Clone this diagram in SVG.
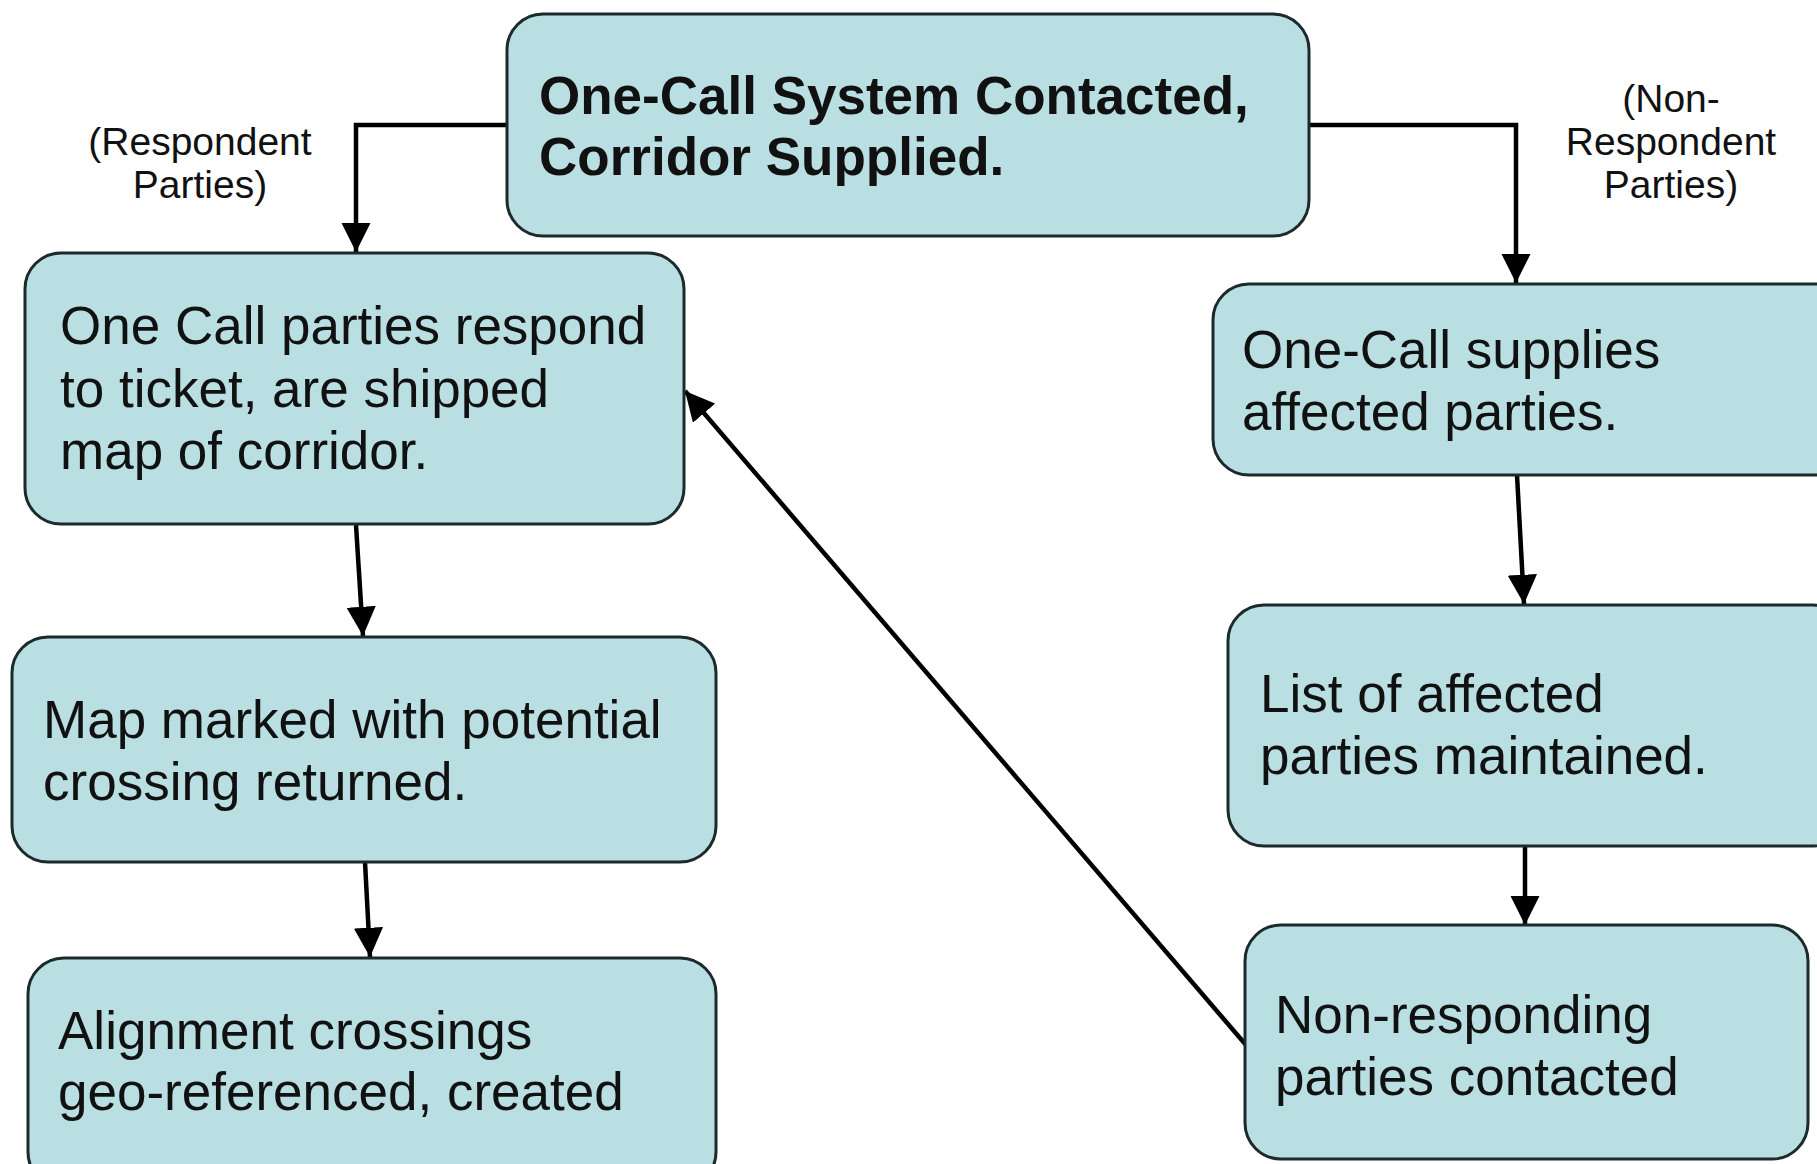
<svg xmlns="http://www.w3.org/2000/svg" width="1817" height="1164" viewBox="0 0 1817 1164">
<defs>
<style>
.box{fill:#b9dfe3;stroke:#1c2a2c;stroke-width:3}
.t{font-family:"Liberation Sans",Arial,sans-serif;font-size:53px;fill:#111}
.tb{font-family:"Liberation Sans",Arial,sans-serif;font-size:53px;font-weight:bold;fill:#111}
.lbl{font-family:"Liberation Sans",Arial,sans-serif;font-size:39px;fill:#111;text-anchor:middle}
.c{fill:none;stroke:#000;stroke-width:4.5}
</style>
<marker id="ah" viewBox="0 0 10 10" refX="10" refY="5" markerWidth="6.5" markerHeight="6.5" markerUnits="strokeWidth" orient="auto">
<path d="M0,0 L10,5 L0,10 Z" fill="#000"/>
</marker>
</defs>
<rect width="1817" height="1164" fill="#fff"/>
<g id="connectors">
<path class="c" d="M507,125 H356 V252" marker-end="url(#ah)"/>
<path class="c" d="M1309,125 H1516 V283" marker-end="url(#ah)"/>
<path class="c" d="M356,525 L363,636" marker-end="url(#ah)"/>
<path class="c" d="M365,862 L370,957" marker-end="url(#ah)"/>
<path class="c" d="M1517,475 L1524,604" marker-end="url(#ah)"/>
<path class="c" d="M1525,846 V925" marker-end="url(#ah)"/>
<path class="c" d="M1246,1045 L685,391" marker-end="url(#ah)"/>
</g>
<g id="lbl-respondent">
<text class="lbl" x="200" y="155">(Respondent</text>
<text class="lbl" x="200" y="198">Parties)</text>
</g>
<g id="lbl-nonrespondent">
<text class="lbl" x="1671" y="112">(Non-</text>
<text class="lbl" x="1671" y="155">Respondent</text>
<text class="lbl" x="1671" y="198">Parties)</text>
</g>
<g id="n-top">
<rect class="box" x="507" y="14" width="802" height="222" rx="36"/>
<text class="tb" x="539" y="114">One-Call System Contacted,</text>
<text class="tb" x="539" y="175">Corridor Supplied.</text>
</g>
<g id="n-respond">
<rect class="box" x="25" y="253" width="659" height="271" rx="36"/>
<text class="t" x="60" y="344">One Call parties respond</text>
<text class="t" x="60" y="407">to ticket, are shipped</text>
<text class="t" x="60" y="469">map of corridor.</text>
</g>
<g id="n-map">
<rect class="box" x="12" y="637" width="704" height="225" rx="36"/>
<text class="t" x="43" y="738">Map marked with potential</text>
<text class="t" x="43" y="800">crossing returned.</text>
</g>
<g id="n-align">
<rect class="box" x="28" y="958" width="688" height="230" rx="36"/>
<text class="t" x="58" y="1049">Alignment crossings</text>
<text class="t" x="58" y="1110">geo-referenced, created</text>
</g>
<g id="n-supplies">
<rect class="box" x="1213" y="284" width="640" height="191" rx="36"/>
<text class="t" x="1242" y="368">One-Call supplies</text>
<text class="t" x="1242" y="430">affected parties.</text>
</g>
<g id="n-list">
<rect class="box" x="1228" y="605" width="620" height="241" rx="36"/>
<text class="t" x="1260" y="712">List of affected</text>
<text class="t" x="1260" y="774">parties maintained.</text>
</g>
<g id="n-nonresp">
<rect class="box" x="1245" y="925" width="563" height="234" rx="36"/>
<text class="t" x="1275" y="1033">Non-responding</text>
<text class="t" x="1275" y="1095">parties contacted</text>
</g>
</svg>
